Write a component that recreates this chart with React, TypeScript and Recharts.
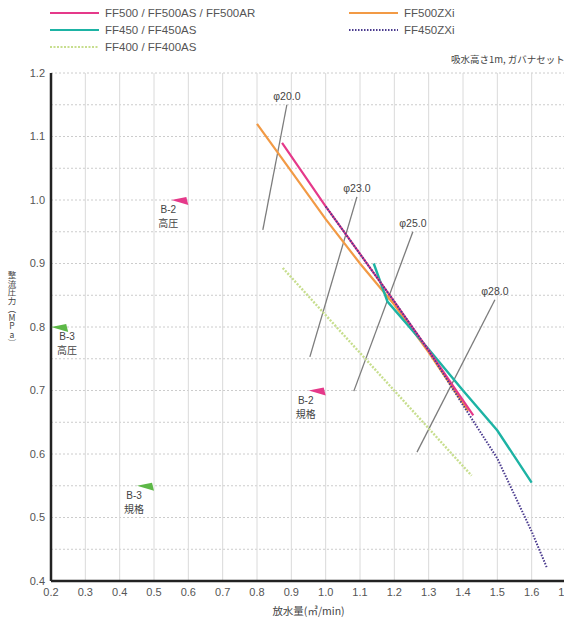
import React from 'react';
import {
  ComposedChart,
  Line,
  XAxis,
  YAxis,
  CartesianGrid,
  ReferenceLine,
  ReferenceDot,
  Scatter,
} from 'recharts';

// flow (m3/min) vs discharge pressure (MPa)
const ff500X = [0.873, 1.0, 1.1, 1.2, 1.3, 1.43];
const ff500Y = [1.09, 0.99, 0.915, 0.84, 0.763, 0.661];
const ff500zxiX = [0.8, 0.9, 1.0, 1.1, 1.2, 1.3, 1.415];
const ff500zxiY = [1.12, 1.045, 0.97, 0.9, 0.835, 0.76, 0.668];
const ff450X = [1.14, 1.18, 1.3, 1.4, 1.5, 1.6];
const ff450Y = [0.9, 0.84, 0.765, 0.7, 0.637, 0.555];
const ff450zxiX = [1.0, 1.1, 1.2, 1.3, 1.4, 1.5, 1.6, 1.645];
const ff450zxiY = [0.99, 0.915, 0.84, 0.763, 0.677, 0.593, 0.478, 0.42];
const ff400X = [0.875, 1.425];
const ff400Y = [0.893, 0.566];

// nozzle diameter guide lines
const nozzleNames = ['φ20.0', 'φ23.0', 'φ25.0', 'φ28.0'];
const nozzleFrom = [[0.817, 0.953], [0.954, 0.753], [1.082, 0.699], [1.266, 0.603]];
const nozzleTo = [[0.887, 1.15], [1.091, 1.005], [1.254, 0.95], [1.493, 0.843]];

// B-2 / B-3 standard markers
const markerX = [0.6, 0.25, 1.0, 0.5];
const markerY = [1.0, 0.8, 0.7, 0.55];
const markerClass = ['B-2', 'B-3', 'B-2', 'B-3'];
const markerKind = ['高圧', '高圧', '規格', '規格'];

const xTicks = [0.2, 0.3, 0.4, 0.5, 0.6, 0.7, 0.8, 0.9, 1.0, 1.1, 1.2, 1.3, 1.4, 1.5, 1.6, 1.7];
const yTicks = [0.4, 0.45, 0.5, 0.55, 0.6, 0.65, 0.7, 0.75, 0.8, 0.85, 0.9, 0.95, 1.0, 1.05, 1.1, 1.15, 1.2];

const PINK = '#e5398a';
const GREEN = '#5db847';
const LATIN = '"Liberation Sans", Arial, sans-serif';
const CJK = '"Noto Sans CJK JP", sans-serif';

const toPoints = (xs: number[], ys: number[]) => xs.map((x, i) => ({ x, y: ys[i] }));

const series = [
  { name: 'FF500 / FF500AS / FF500AR', color: PINK, dash: undefined, width: 2.2, data: toPoints(ff500X, ff500Y), col: 0, row: 0 },
  { name: 'FF450 / FF450AS', color: '#1db3a4', dash: undefined, width: 2.4, data: toPoints(ff450X, ff450Y), col: 0, row: 1 },
  { name: 'FF400 / FF400AS', color: '#c7de8e', dash: '2 1.5', width: 2.4, data: toPoints(ff400X, ff400Y), col: 0, row: 2 },
  { name: 'FF500ZXi', color: '#f29a45', dash: undefined, width: 2.2, data: toPoints(ff500zxiX, ff500zxiY), col: 1, row: 0 },
  { name: 'FF450ZXi', color: '#4a3a8e', dash: '1.5 1.5', width: 2, data: toPoints(ff450zxiX, ff450zxiY), col: 1, row: 1 },
];

// draw order: lighter ones first, so the pink/purple sit on top like the sheet
const drawOrder = [2, 3, 1, 0, 4];

const markers = markerX.map((x, i) => ({ x, y: markerY[i], cls: markerClass[i], kind: markerKind[i] }));

const Flag = (props: any) => {
  const { cx, cy, payload } = props;
  if (cx == null || cy == null) return null;
  const color = payload.cls === 'B-2' ? PINK : GREEN;
  // label sits under the left end of the flag, but not past the y axis
  const tx = Math.max(cx - 20, 67);
  return (
    <g>
      <polygon points={`${cx - 17},${cy} ${cx - 2},${cy - 3} ${cx},${cy + 5}`} fill={color} />
      <text x={tx} y={cy + 13} textAnchor="middle" fontSize={10} fontFamily={LATIN} fill="#444">{payload.cls}</text>
      <text x={tx} y={cy + 27} textAnchor="middle" fontSize={10} fontFamily={CJK} fill="#444">{payload.kind}</text>
    </g>
  );
};

const yFormat = (v: number) => (Math.round(v * 100) % 10 === 0 ? v.toFixed(1) : '');

function Overlay() {
  const colX = [50, 349];
  const rowY = [13, 30, 47];
  return (
    <svg width={564} height={619} style={{ position: 'absolute', left: 0, top: 0, pointerEvents: 'none' }}>
      {series.map((s) => {
        const x = colX[s.col];
        const y = rowY[s.row];
        return (
          <g key={s.name}>
            <line x1={x} x2={x + 49} y1={y} y2={y} stroke={s.color} strokeWidth={2.2} strokeDasharray={s.dash} />
            <text x={x + 55} y={y + 4} fontSize={11.5} fontFamily={LATIN} fill="#555">{s.name}</text>
          </g>
        );
      })}
      <text x={451} y={63} fontSize={9.5} fontFamily={CJK} fill="#444">吸水高さ1m, ガバナセット</text>
      <text
        x={12}
        y={271}
        fontSize={8.5}
        fontFamily={CJK}
        fill="#444"
        style={{ writingMode: 'vertical-rl', textOrientation: 'upright' } as any}
      >
        整流圧力（MPa）
      </text>
    </svg>
  );
}

export default function App() {
  return (
    <div style={{ position: 'absolute', left: 0, top: 0, width: 564, height: 619, overflow: 'hidden', background: '#fff' }}>
      <ComposedChart
        width={580}
        height={619}
        margin={{ top: 73, right: 14, bottom: 0, left: 0 }}
        style={{ position: 'absolute', left: 0, top: 0 }}
      >
        <CartesianGrid vertical={false} stroke="#cccccc" strokeDasharray="2 2" />
        <CartesianGrid horizontal={false} stroke="#dadada" />
        <XAxis
          type="number"
          dataKey="x"
          domain={[0.2, 1.7]}
          ticks={xTicks}
          tickFormatter={(v: number) => v.toFixed(1)}
          height={38}
          tickSize={0}
          tickMargin={7}
          tick={{ fontSize: 11, fill: '#555', fontFamily: LATIN }}
          axisLine={{ stroke: '#222', strokeWidth: 2.5 }}
          allowDataOverflow
          label={{ value: '放水量(㎥/min)', position: 'insideBottom', offset: 4, fontSize: 10.5, fill: '#444', fontFamily: CJK }}
        />
        <YAxis
          type="number"
          domain={[0.4, 1.2]}
          ticks={yTicks}
          interval={0}
          tickFormatter={yFormat}
          width={51}
          tickSize={0}
          tickMargin={6}
          tick={{ fontSize: 11, fill: '#555', fontFamily: LATIN }}
          axisLine={{ stroke: '#222', strokeWidth: 2.5 }}
          allowDataOverflow
        />
        {nozzleNames.map((n, i) => (
          <ReferenceLine
            key={n}
            segment={[
              { x: nozzleFrom[i][0], y: nozzleFrom[i][1] },
              { x: nozzleTo[i][0], y: nozzleTo[i][1] },
            ]}
            stroke="#7c7c7c"
            strokeWidth={1.3}
          />
        ))}
        {drawOrder.map((k) => {
          const s = series[k];
          return (
            <Line
              key={s.name}
              data={s.data}
              dataKey="y"
              type="linear"
              stroke={s.color}
              strokeWidth={s.width}
              strokeDasharray={s.dash}
              dot={false}
              activeDot={false}
              isAnimationActive={false}
            />
          );
        })}
        {nozzleNames.map((n, i) => (
          <ReferenceDot
            key={'lbl' + n}
            x={nozzleTo[i][0]}
            y={nozzleTo[i][1]}
            r={0}
            stroke="none"
            fill="none"
            label={{ value: n, position: 'top', offset: 5, fontSize: 10.5, fill: '#444', fontFamily: LATIN }}
          />
        ))}
        <Scatter data={markers} dataKey="y" shape={<Flag />} isAnimationActive={false} />
      </ComposedChart>
      <Overlay />
    </div>
  );
}
